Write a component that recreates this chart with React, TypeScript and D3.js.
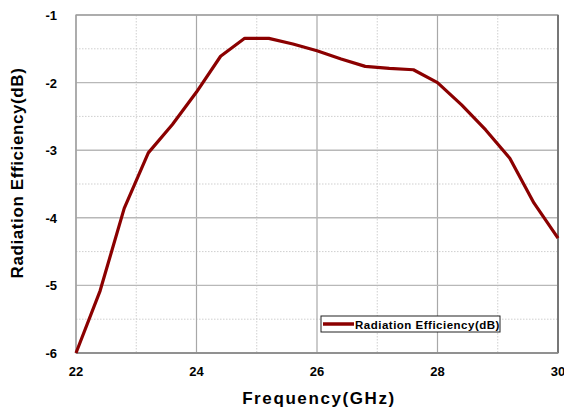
import React, { useEffect, useRef } from "react";
import * as d3 from "d3";

// frequency (GHz) and radiation efficiency (dB)
const freq = [22, 22.4, 22.8, 23.2, 23.6, 24, 24.4, 24.8, 25.2, 25.6, 26, 26.4, 26.8, 27.2, 27.6, 28, 28.4, 28.8, 29.2, 29.6, 30];
const efficiency = [-6, -5.08, -3.86, -3.04, -2.62, -2.14, -1.61, -1.345, -1.345, -1.43, -1.53, -1.65, -1.76, -1.79, -1.81, -2.0, -2.33, -2.7, -3.12, -3.78, -4.3];
const xTicks = [22, 24, 26, 28, 30];
const yTicks = [-1, -2, -3, -4, -5, -6];
const seriesName = "Radiation Efficiency(dB)";

export default function App() {
  const ref = useRef<SVGSVGElement>(null);

  useEffect(() => {
    const W = 564, H = 409;
    const margin = { top: 15, right: 6, bottom: 56, left: 76 };
    const width = W - margin.left - margin.right;
    const height = H - margin.top - margin.bottom;

    const svg = d3.select(ref.current);
    svg.selectAll("*").remove();
    const g = svg.append("g").attr("transform", `translate(${margin.left},${margin.top})`);

    const x = d3.scaleLinear().domain([22, 30]).range([0, width]);
    const y = d3.scaleLinear().domain([-6, -1]).range([height, 0]);

    const font = "Liberation Sans, Arial, sans-serif";

    // minor dotted grid
    d3.range(23, 30, 2).forEach((v) => {
      g.append("line").attr("x1", x(v)).attr("x2", x(v)).attr("y1", 0).attr("y2", height)
        .attr("stroke", "#cfcfcf").attr("stroke-dasharray", "1.5,1.5");
    });
    d3.range(-5.5, -1, 1).forEach((v) => {
      g.append("line").attr("x1", 0).attr("x2", width).attr("y1", y(v)).attr("y2", y(v))
        .attr("stroke", "#cfcfcf").attr("stroke-dasharray", "1.5,1.5");
    });

    // major grid
    xTicks.forEach((v) => {
      g.append("line").attr("x1", x(v)).attr("x2", x(v)).attr("y1", 0).attr("y2", height)
        .attr("stroke", "#a8a8a8").attr("stroke-width", 1.2);
    });
    yTicks.forEach((v) => {
      g.append("line").attr("x1", 0).attr("x2", width).attr("y1", y(v)).attr("y2", y(v))
        .attr("stroke", "#b8b8b8").attr("stroke-width", 1.4);
    });

    // frame
    g.append("rect").attr("width", width).attr("height", height)
      .attr("fill", "none").attr("stroke", "#999").attr("stroke-width", 1.2);
    g.append("line").attr("x1", width).attr("x2", width).attr("y1", 0).attr("y2", height)
      .attr("stroke", "#777").attr("stroke-width", 2);
    g.append("line").attr("x1", 0).attr("x2", width).attr("y1", height).attr("y2", height)
      .attr("stroke", "#888").attr("stroke-width", 1.5);

    // tick labels
    xTicks.forEach((v) => {
      g.append("text").attr("x", x(v)).attr("y", height + 23).attr("text-anchor", "middle")
        .attr("font-family", font).attr("font-weight", "bold").attr("font-size", 13).text(v);
    });
    yTicks.forEach((v) => {
      g.append("text").attr("x", -19).attr("y", y(v) + 5).attr("text-anchor", "end")
        .attr("font-family", font).attr("font-weight", "bold").attr("font-size", 13).text(v);
    });

    // series
    const line = d3.line<number>().x((d, i) => x(freq[i])).y((d) => y(d));
    g.append("path").datum(efficiency).attr("d", line).attr("fill", "none")
      .attr("stroke", "#8b0000").attr("stroke-width", 3.2).attr("stroke-linejoin", "round");

    // axis titles
    svg.append("text").attr("x", margin.left + width / 2 + 2).attr("y", 404).attr("text-anchor", "middle")
      .attr("font-family", font).attr("font-weight", "bold").attr("font-size", 17)
      .attr("letter-spacing", 1.6).text("Frequency(GHz)");
    svg.append("text").attr("transform", `translate(23,173) rotate(-90)`)
      .attr("text-anchor", "middle").attr("font-family", font).attr("font-weight", "bold")
      .attr("font-size", 17).attr("letter-spacing", 0.6).text("Radiation Efficiency(dB)");

    // legend
    const lg = svg.append("g").attr("transform", "translate(321,316)");
    lg.append("rect").attr("width", 179).attr("height", 16).attr("fill", "#fff")
      .attr("stroke", "#222").attr("stroke-width", 1);
    lg.append("line").attr("x1", 2).attr("x2", 33).attr("y1", 8).attr("y2", 8)
      .attr("stroke", "#8b0000").attr("stroke-width", 3.5);
    lg.append("text").attr("x", 34).attr("y", 12.5).attr("font-family", font)
      .attr("font-weight", "bold").attr("font-size", 11.5).attr("letter-spacing", 0.5).text(seriesName);
  }, []);

  return <svg ref={ref} width={564} height={409} style={{ position: "absolute", left: 0, top: 0 }} />;
}
